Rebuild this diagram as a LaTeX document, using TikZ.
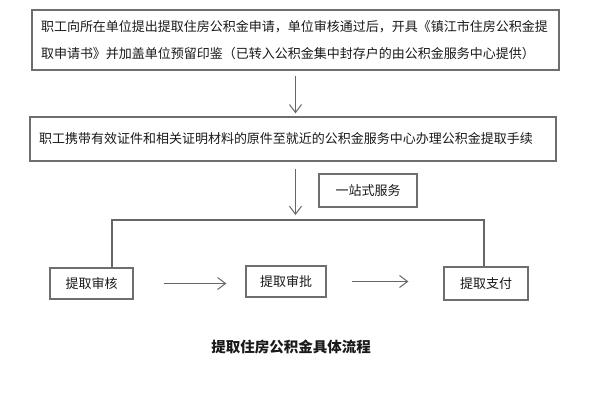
\documentclass[tikz,border=0pt]{standalone}
\usepackage{fontspec}
\setmainfont{Noto Sans CJK SC}
\usetikzlibrary{arrows.meta,calc}
\definecolor{boxline}{HTML}{6E6E6E}
\definecolor{conn}{HTML}{666666}
\definecolor{txt}{HTML}{1A1A1A}
\tikzset{
  box/.style={draw=boxline, line width=1.3pt, rectangle, inner sep=0pt, text=txt,
    font=\fontsize{13}{27}\selectfont},
  arr/.style={draw=conn, line width=1pt, -{Straight Barb[length=8pt,width=12pt]}},
  link/.style={draw=conn, line width=1.1pt},
}
\begin{document}
\begin{tikzpicture}[x=1pt,y=-1pt]
\useasboundingbox[fill=white] (0,0) rectangle (589,400);
\node[box, minimum width=527pt, minimum height=60pt, text width=509pt, align=left] (box1) at (295.5,40)
  {职工向所在单位提出提取住房公积金申请，单位审核通过后，开具《镇江市住房公积金提\\取申请书》并加盖单位预留印鉴（已转入公积金集中封存户的由公积金服务中心提供）};
\node[box, minimum width=526pt, minimum height=44pt, text width=508pt, align=left] (box2) at (293,139)
  {职工携带有效证件和相关证明材料的原件至就近的公积金服务中心办理公积金提取手续};
\node[box, minimum width=98pt, minimum height=33pt] (svc) at (368,190.5) {一站式服务};
\node[box, minimum width=83pt, minimum height=31pt] (b1) at (91.5,283.5) {提取审核};
\node[box, minimum width=80pt, minimum height=31pt] (b2) at (286,281.5) {提取审批};
\node[box, minimum width=84pt, minimum height=33pt] (b3) at (486,283.5) {提取支付};
\node[text=txt, font=\fontsize{14.5}{16}\selectfont\bfseries] (title) at (291,347) {提取住房公积金具体流程};
\coordinate (L) at (112,220);
\coordinate (R) at (484,220);
\draw[arr, shorten <=5pt, shorten >=3pt] (box1.south) -- (box1.south |- box2.north);
\draw[arr, shorten <=7pt, shorten >=5pt] (box1.south |- box2.south) -- (box1.south |- L);
\draw[link] (L |- b1.north) -- (L) -- (R) -- (R |- b3.north);
\draw[arr, shorten <=30pt, shorten >=19pt] (b1.east) -- (b1.east -| b2.west);
\draw[arr, shorten <=25pt, shorten >=35pt] (b2.east) -- (b2.east -| b3.west);
\end{tikzpicture}
\end{document}
